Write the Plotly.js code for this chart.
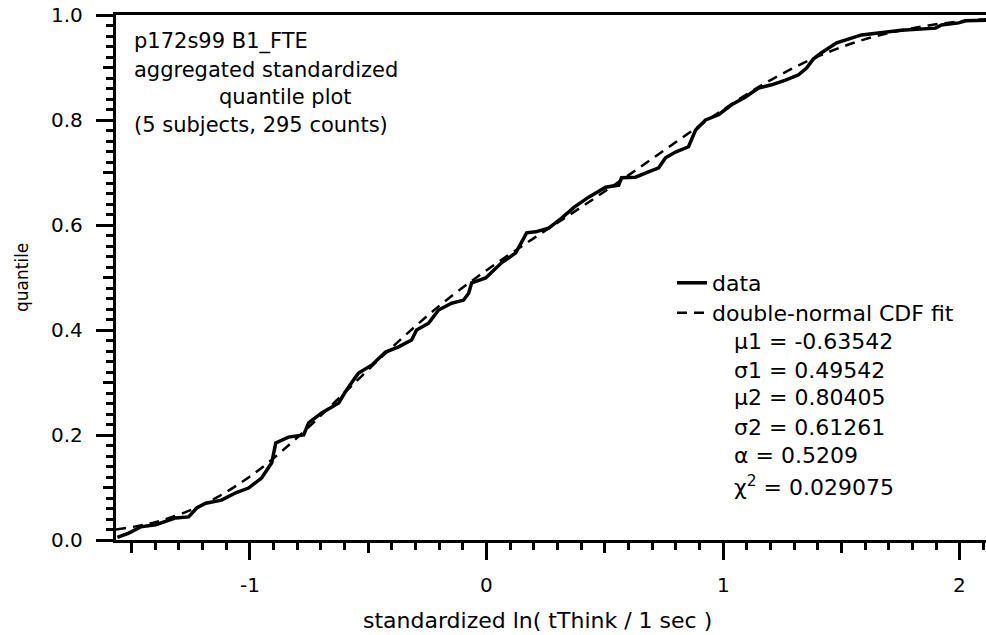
<!DOCTYPE html>
<html>
<head>
<meta charset="utf-8">
<script src="https://cdn.plot.ly/plotly-3.0.1.min.js"></script>
<style>html,body{margin:0;padding:0;background:#fff;}#chart{width:986px;height:635px;}</style>
</head>
<body>
<div id="chart"></div>
<script>
const dataX = [-1.560, -1.512, -1.462, -1.398, -1.314, -1.259, -1.225, -1.187, -1.120, -1.060,
  -1.006, -0.951, -0.908, -0.891, -0.837, -0.773, -0.752, -0.697, -0.625, -0.600,
  -0.562, -0.541, -0.486, -0.427, -0.372, -0.317, -0.296, -0.245, -0.203, -0.148,
  -0.097, -0.076, -0.063, -0.004, 0.063, 0.123, 0.169, 0.207, 0.262, 0.317,
  0.370, 0.431, 0.503, 0.558, 0.570, 0.629, 0.684, 0.727, 0.756, 0.798,
  0.853, 0.866, 0.883, 0.925, 0.980, 1.035, 1.094, 1.149, 1.204, 1.263,
  1.318, 1.352, 1.380, 1.415, 1.479, 1.584, 1.698, 1.753, 1.897, 1.922,
  1.994, 2.024, 2.110];
const dataY = [0.005, 0.013, 0.025, 0.029, 0.042, 0.044, 0.061, 0.070, 0.076, 0.090,
  0.099, 0.118, 0.147, 0.185, 0.196, 0.200, 0.223, 0.242, 0.261, 0.280,
  0.305, 0.318, 0.333, 0.358, 0.368, 0.381, 0.400, 0.413, 0.438, 0.451,
  0.457, 0.470, 0.490, 0.499, 0.528, 0.547, 0.585, 0.587, 0.594, 0.613,
  0.634, 0.653, 0.672, 0.676, 0.690, 0.691, 0.701, 0.709, 0.728, 0.739,
  0.749, 0.762, 0.781, 0.800, 0.810, 0.829, 0.844, 0.861, 0.867, 0.876,
  0.886, 0.899, 0.916, 0.928, 0.947, 0.962, 0.968, 0.971, 0.975, 0.981,
  0.985, 0.989, 0.990];

// double-normal CDF fit
const fitX = [-1.566, -1.4, -1.2, -1.0, -0.8, -0.6, -0.4, -0.2, 0.0, 0.2,
  0.4, 0.6, 0.8, 1.0, 1.2, 1.4, 1.6, 1.8, 2.0, 2.11];
const fitY = [0.020, 0.034, 0.067, 0.121, 0.195, 0.281, 0.367, 0.446, 0.514, 0.575,
  0.634, 0.695, 0.758, 0.820, 0.876, 0.921, 0.954, 0.975, 0.988, 0.992];

const xTickVals = [-1, 0, 1, 2];
const xTickText = ['-1', '0', '1', '2'];
const xMidTicks = [-1.5, -0.5, 0.5, 1.5];
const yTickVals = [0, 0.2, 0.4, 0.6, 0.8, 1.0];
const yTickText = ['0.0', '0.2', '0.4', '0.6', '0.8', '1.0'];
const yMidTicks = [0.1, 0.3, 0.5, 0.7, 0.9];

const headerLines = ['p172s99 B1_FTE', 'aggregated standardized', 'quantile plot', '(5 subjects, 295 counts)'];
const paramLines = ['µ1 = -0.63542', 'σ1 = 0.49542', 'µ2 = 0.80405', 'σ2 = 0.61261', 'α = 0.5209'];
const chiLine = 'χ<sup>2</sup> = 0.029075';

const FONT = 'DejaVu Sans, Liberation Sans, Arial, sans-serif';
const XR = [-1.566, 2.11];
const YR = [0, 1];

const traces = [
  {x: dataX, y: dataY, type: 'scatter', mode: 'lines', name: 'data', legend: 'legend',
   line: {color: '#000', width: 3.5}},
  {x: fitX, y: fitY, type: 'scatter', mode: 'lines', name: 'double-normal CDF fit', legend: 'legend2',
   line: {color: '#000', width: 2.5, dash: '10px,7px', shape: 'spline'}},
  {x: [], y: [], xaxis: 'x2', yaxis: 'y2', type: 'scatter', mode: 'lines', showlegend: false, hoverinfo: 'skip'}
];

const annotations = [];
// tick labels placed through the axes' scales
xTickVals.forEach((v, i) => {
  annotations.push({text: xTickText[i], xref: 'x', yref: 'paper', x: v, y: (540 - 585) / 525,
    xanchor: 'center', yanchor: 'middle', showarrow: false, borderpad: 0,
    font: {family: FONT, size: 20, color: '#000'}});
});
yTickVals.forEach((v, i) => {
  annotations.push({text: yTickText[i], xref: 'paper', yref: 'y', x: (84 - 116) / 870, y: v,
    xanchor: 'right', yanchor: 'middle', showarrow: false, borderpad: 0,
    font: {family: FONT, size: 20, color: '#000'}});
});
const headerPos = [[133, 42], [133, 70], [218, 97], [133, 125]];
headerLines.forEach((t, i) => {
  annotations.push({text: t, xref: 'paper', yref: 'paper',
    x: (headerPos[i][0] - 116) / 870, y: (540 - headerPos[i][1]) / 525,
    xanchor: 'left', yanchor: 'middle', showarrow: false, borderpad: 0,
    font: {family: FONT, size: 21, color: '#000'}});
});
const paramY = [342, 370, 398, 427, 455];
paramLines.forEach((t, i) => {
  annotations.push({text: t, xref: 'paper', yref: 'paper',
    x: (733 - 116) / 870, y: (540 - paramY[i]) / 525,
    xanchor: 'left', yanchor: 'middle', showarrow: false, borderpad: 0,
    font: {family: FONT, size: 22, color: '#000'}});
});
annotations.push({text: chiLine, xref: 'paper', yref: 'paper',
  x: (733 - 116) / 870, y: (540 - 486) / 525,
  xanchor: 'left', yanchor: 'middle', showarrow: false, borderpad: 0,
  font: {family: FONT, size: 22, color: '#000'}});
annotations.push({text: 'quantile', xref: 'paper', yref: 'paper',
  x: (22 - 116) / 870, y: (540 - 278) / 525, textangle: -90,
  xanchor: 'center', yanchor: 'middle', showarrow: false,
  font: {family: FONT, size: 17, color: '#000'}});
annotations.push({text: 'standardized ln( tThink / 1 sec )', xref: 'paper', yref: 'paper',
  x: (537 - 116) / 870, y: (540 - 620) / 525,
  xanchor: 'center', yanchor: 'middle', showarrow: false,
  font: {family: FONT, size: 22, color: '#000'}});

const legendBase = {xanchor: 'left', yanchor: 'top', bgcolor: 'rgba(0,0,0,0)', borderwidth: 0,
  font: {family: FONT, size: 22, color: '#000'}};

const layout = {
  width: 986, height: 635,
  margin: {l: 116, r: 0, t: 15, b: 95, pad: 0},
  paper_bgcolor: '#fff', plot_bgcolor: '#fff',
  font: {family: FONT, color: '#000'},
  showlegend: true,
  legend: Object.assign({}, legendBase, {x: (672 - 116) / 870, y: (540 - 262) / 525}),
  legend2: Object.assign({}, legendBase, {x: (672 - 116) / 870, y: (540 - 292) / 525}),
  xaxis: {range: XR, showline: true, linewidth: 3, linecolor: '#000', mirror: true,
    showgrid: false, zeroline: false, ticks: 'outside', ticklen: 17, tickwidth: 3, tickcolor: '#000',
    tickmode: 'array', tickvals: xTickVals, showticklabels: false,
    minor: {tickmode: 'linear', tick0: 0, dtick: 0.1, ticks: 'outside', ticklen: 7, tickwidth: 3, tickcolor: '#000', showgrid: false}},
  yaxis: {range: YR, showline: true, linewidth: 3, linecolor: '#000',
    showgrid: false, zeroline: false, ticks: 'outside', ticklen: 17, tickwidth: 3, tickcolor: '#000',
    tickmode: 'array', tickvals: yTickVals, showticklabels: false,
    minor: {tickmode: 'linear', tick0: 0, dtick: 0.02, ticks: 'outside', ticklen: 7, tickwidth: 3, tickcolor: '#000', showgrid: false}},
  xaxis2: {overlaying: 'x', anchor: 'y2', range: XR, showline: false, showgrid: false, zeroline: false,
    ticks: 'outside', ticklen: 12, tickwidth: 3, tickcolor: '#000', tickmode: 'array', tickvals: xMidTicks,
    showticklabels: false},
  yaxis2: {overlaying: 'y', anchor: 'x2', side: 'left', range: YR, showline: false, showgrid: false, zeroline: false,
    ticks: 'outside', ticklen: 12, tickwidth: 3, tickcolor: '#000', tickmode: 'array', tickvals: yMidTicks,
    showticklabels: false},
  annotations: annotations
};

Plotly.newPlot('chart', traces, layout, {displayModeBar: false, staticPlot: true});
</script>
</body>
</html>
